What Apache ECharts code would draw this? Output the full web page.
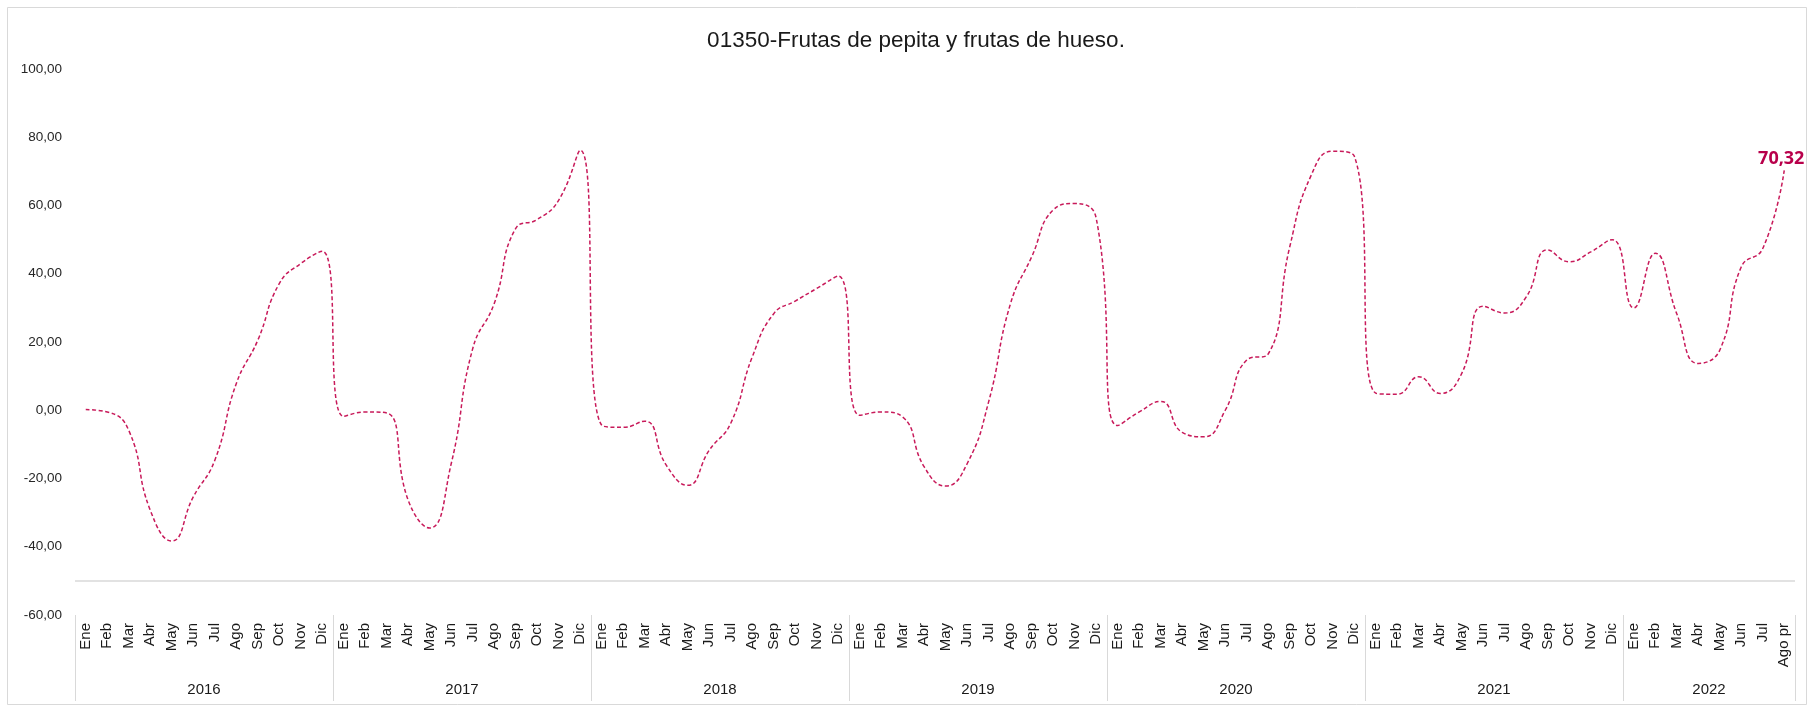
<!DOCTYPE html>
<html>
<head>
<meta charset="utf-8">
<title>01350-Frutas de pepita y frutas de hueso.</title>
<script src="https://cdn.jsdelivr.net/npm/echarts@6/dist/echarts.min.js"></script>
<style>
  html, body { margin: 0; padding: 0; background: #fff; }
  #chart { width: 1809px; height: 708px; }
</style>
</head>
<body>
<div id="chart"></div>
<script>
// meses y años del eje
var months = ["Ene", "Feb", "Mar", "Abr", "May", "Jun", "Jul", "Ago", "Sep", "Oct", "Nov", "Dic"];
var years = ["2016", "2017", "2018", "2019", "2020", "2021", "2022"];
var lastMonthLabel = "Ago pr";

// valores, por año
var v2016 = [0.2, -0.5, -5.9, -29.3, -38.3, -25.4, -14.7, 7.8, 20.5, 37.1, 43.0, 46.6];
var v2017 = [-1.8, -0.5, -0.8, -26.4, -34.5, -15.6, 18.1, 31.3, 53.3, 55.9, 61.6, 76.2];
var v2018 = [-4.4, -5.0, -3.2, -16.1, -22.0, -11.7, -3.8, 15.6, 28.3, 32.0, 35.7, 39.3];
var v2019 = [-1.5, -0.5, -2.0, -16.6, -22.2, -15.6, 2.6, 31.0, 45.0, 58.7, 60.6, 56.2];
var v2020 = [-4.5, -0.5, 2.6, -6.5, -7.8, 0.0, 14.7, 16.5, 47.9, 68.9, 75.9, 74.5];
var v2021 = [5.0, 4.7, 9.8, 4.9, 10.8, 30.5, 28.5, 33.2, 47.0, 43.5, 46.4, 50.0];
var v2022 = [30.0, 46.0, 28.3, 13.7, 17.6, 42.0, 47.4, 70.32];

// eje Y
var yMin = -60, yMax = 100, yStep = 20;
var baseLine = -50;

var values = [].concat(v2016, v2017, v2018, v2019, v2020, v2021, v2022);

// categorías: un mes por punto
var categories = [];
var yearStarts = [];   // índice donde empieza cada año
values.forEach(function (v, i) {
  if (i % 12 === 0) yearStarts.push(i);
  categories.push(months[i % 12]);
});
categories[categories.length - 1] = lastMonthLabel;

// posición central de cada año (para la etiqueta del año)
var yearCenters = yearStarts.map(function (s, k) {
  var end = k < yearStarts.length - 1 ? yearStarts[k + 1] : values.length;
  return (s + end) / 2;
});
var yearBounds = yearStarts.concat([values.length]);

var lastIdx = values.length - 1;

function fmt(v) {
  return v.toFixed(2).replace(".", ",");
}

var chart = echarts.init(document.getElementById("chart"));

chart.setOption({
  animation: false,
  backgroundColor: "#fff",
  title: {
    text: "01350-Frutas de pepita y frutas de hueso.",
    left: 911,
    top: 24,
    textAlign: "center",
    textStyle: {
      fontFamily: "Liberation Sans",
      fontWeight: "normal",
      fontSize: 22.5,
      color: "#1a1a1a"
    }
  },
  // borde del gráfico
  graphic: [{
    type: "rect",
    shape: { x: 7.5, y: 7.5, width: 1799, height: 697 },
    style: { fill: null, stroke: "#d9d9d9", lineWidth: 1 },
    silent: true
  }],
  grid: { left: 75, right: 14, top: 69, bottom: 93 },
  xAxis: [
    {
      type: "category",
      data: categories,
      boundaryGap: true,
      axisLine: { show: false },
      axisTick: { show: false },
      splitLine: { show: false },
      axisLabel: {
        interval: 0,
        rotate: 90,
        margin: 8,
        fontFamily: "Liberation Sans",
        fontSize: 15,
        color: "#1a1a1a"
      }
    },
    {
      // eje auxiliar para años y separadores
      type: "value",
      min: 0,
      max: values.length,
      position: "bottom",
      axisLine: { show: false },
      splitLine: { show: false },
      axisTick: {
        show: true,
        customValues: yearBounds,
        length: 86,
        lineStyle: { color: "#d9d9d9", width: 1 }
      },
      axisLabel: {
        show: true,
        customValues: yearCenters,
        margin: 67,
        fontFamily: "Liberation Sans",
        fontSize: 15,
        color: "#1a1a1a",
        formatter: function (v) {
          var k = yearCenters.indexOf(v);
          return k >= 0 ? years[k] : "";
        }
      }
    }
  ],
  yAxis: {
    type: "value",
    min: yMin,
    max: yMax,
    interval: yStep,
    axisLine: { show: false },
    axisTick: { show: false },
    splitLine: { show: false },
    axisLabel: {
      margin: 13,
      fontFamily: "Liberation Sans",
      fontSize: 13.5,
      color: "#262626",
      formatter: fmt
    }
  },
  series: [{
    type: "line",
    data: values,
    smooth: 0.5,
    symbol: "none",
    lineStyle: { color: "#c81a5a", width: 1.5, type: [4, 2.5] },
    markLine: {
      silent: true,
      symbol: "none",
      label: { show: false },
      lineStyle: { color: "#d9d9d9", width: 1.5, type: "solid" },
      data: [{ yAxis: baseLine }]
    },
    // etiqueta del último valor
    markPoint: {
      silent: true,
      symbol: "circle",
      symbolSize: 0,
      label: {
        show: true,
        position: "top",
        distance: 2,
        offset: [-3, 0],
        formatter: function (p) { return fmt(p.value); },
        color: "#b8004b",
        fontFamily: "Noto Sans",
        fontWeight: "bold",
        fontSize: 18
      },
      data: [{ coord: [lastIdx, values[lastIdx]], value: values[lastIdx] }]
    }
  }]
});
</script>
</body>
</html>
